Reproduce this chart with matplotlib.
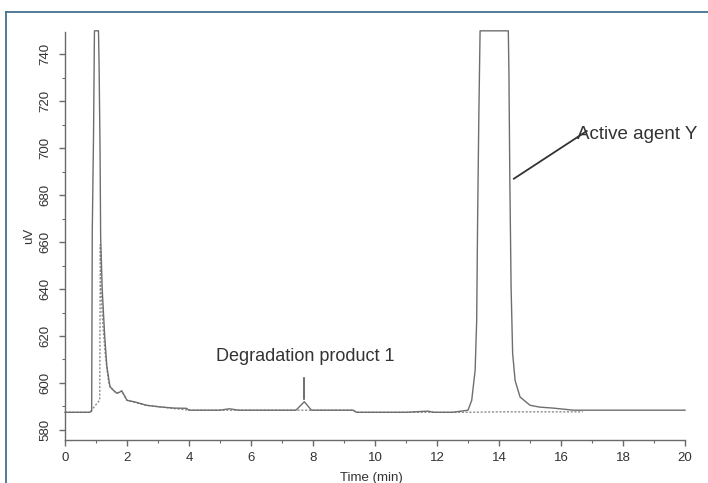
#!/usr/bin/env python3
"""Chromatogram overlay: sample vs blank, with the two labelled peaks."""

import matplotlib

matplotlib.use("Agg")
import matplotlib.pyplot as plt
from matplotlib.lines import Line2D
from matplotlib.ticker import MultipleLocator

# sample trace (solid)
SAMPLE_T = [0.0, 0.8, 0.86, 0.88, 0.92, 0.95, 1.08, 1.10, 1.13, 1.15, 1.20, 1.28,
            1.35, 1.45, 1.55, 1.67, 1.75, 1.83, 1.90, 2.0, 2.26, 2.63, 3.06, 3.5,
            3.92, 4.0, 5.0, 5.3, 5.6, 6.0, 7.0, 7.45, 7.72, 7.95, 8.5, 9.3, 9.4,
            10.0, 11.0, 11.7, 11.9, 12.5, 13.0, 13.12, 13.23, 13.28, 13.31, 13.35,
            13.39, 14.30, 14.32, 14.35, 14.39, 14.44, 14.52, 14.68, 15.0, 15.32,
            15.74, 16.4, 17.0, 18.0, 19.0, 20.0]
SAMPLE_V = [587.5, 587.5, 588.0, 665.0, 705.0, 750.0, 750.0, 735.0, 700.0, 662.0,
            640.0, 620.0, 607.0, 598.5, 597.0, 595.6, 596.0, 596.6, 595.0, 592.6,
            591.9, 590.5, 589.8, 589.3, 589.2, 588.4, 588.4, 589.0, 588.4, 588.4,
            588.4, 588.4, 592.0, 588.4, 588.4, 588.4, 587.5, 587.5, 587.5, 588.0,
            587.5, 587.5, 588.4, 592.6, 605.4, 626.6, 669.0, 714.4, 750.0, 750.0,
            732.7, 686.0, 640.8, 612.6, 601.0, 594.0, 590.5, 589.7, 589.3, 588.4,
            588.4, 588.4, 588.4, 588.4]

# blank trace (dotted)
BLANK_T = [0.0, 0.8, 1.12, 1.14, 1.16, 1.22, 1.30, 1.40, 1.45, 1.67, 1.83, 2.0,
           2.6, 3.06, 4.0, 7.0, 9.3, 9.4, 13.0, 14.0, 15.0, 16.7]
BLANK_V = [587.5, 587.5, 592.7, 659.0, 640.0, 625.0, 612.0, 601.0, 598.3, 595.6,
           596.6, 592.6, 590.5, 589.8, 588.4, 588.4, 588.4, 587.5, 587.5, 587.7,
           587.7, 587.7]

X_LIM = (0, 20)
Y_LIM = (575.7, 749.5)

DEG_LABEL = "Degradation product 1"
DEG_PEAK = (7.72, 593.0)
DEG_TEXT = (7.74, 607.5)
AGENT_LABEL = "Active agent Y"
AGENT_POINT = (14.48, 687.0)
AGENT_TEXT = (16.52, 706.0)
AGENT_LINE_END = (16.83, 707.3)

FONT = ["Liberation Sans", "DejaVu Sans"]
AXIS_GREY = "#6a6a6a"


def main() -> None:
    plt.rcParams["font.family"] = FONT
    fig = plt.figure(figsize=(7.08, 4.83), dpi=100)
    ax = fig.add_axes([65 / 708, 1 - 440 / 483, 620 / 708, 408 / 483])

    ax.plot(BLANK_T, BLANK_V, color="#8c8c8c", linewidth=1.0,
            linestyle=(0, (1.5, 1.2)), clip_on=False)
    ax.plot(SAMPLE_T, SAMPLE_V, color="#6e6e6e", linewidth=1.0, clip_on=False)

    ax.set_xlim(*X_LIM)
    ax.set_ylim(*Y_LIM)
    ax.xaxis.set_major_locator(MultipleLocator(2))
    ax.xaxis.set_minor_locator(MultipleLocator(1))
    ax.yaxis.set_major_locator(MultipleLocator(20))
    ax.yaxis.set_minor_locator(MultipleLocator(10))

    for side in ["top", "right"]:
        ax.spines[side].set_visible(False)
    for side in ["left", "bottom"]:
        ax.spines[side].set_color(AXIS_GREY)
        ax.spines[side].set_linewidth(1.0)

    ax.tick_params(which="major", direction="out", length=4.5, width=1.0,
                   color=AXIS_GREY, labelsize=9.5, labelcolor="#333333")
    ax.tick_params(which="minor", direction="out", length=2.5, width=0.8,
                   color=AXIS_GREY)
    ax.tick_params(axis="x", pad=4)
    ax.tick_params(axis="y", pad=5)
    for lab in ax.get_yticklabels():
        lab.set_rotation(90)
        lab.set_va("center")

    ax.set_xlabel("Time (min)", fontsize=9.5, color="#333333")
    ax.set_ylabel("uV", fontsize=9.5, color="#333333")
    ax.xaxis.set_label_coords(0.4935, -0.078)
    ax.yaxis.set_label_coords(-0.048, 0.5)

    # peak annotations
    ax.plot([DEG_PEAK[0], DEG_PEAK[0]], [DEG_PEAK[1], 602.0], color="#555555",
            linewidth=1.2)
    ax.text(DEG_TEXT[0], DEG_TEXT[1], DEG_LABEL, ha="center", va="bottom",
            fontsize=13, color="#333333")
    ax.plot([AGENT_POINT[0], AGENT_LINE_END[0]], [AGENT_POINT[1], AGENT_LINE_END[1]],
            color="#333333", linewidth=1.3)
    ax.text(AGENT_TEXT[0], AGENT_TEXT[1], AGENT_LABEL, ha="left", va="center",
            fontsize=13.5, color="#333333")

    # outer frame, only top and left edges are inside the picture
    frame = "#44708f"
    fig.add_artist(Line2D([6 / 708, 1.0], [1 - 12 / 483, 1 - 12 / 483],
                          transform=fig.transFigure, color=frame, linewidth=1.3))
    fig.add_artist(Line2D([6 / 708, 6 / 708], [0.0, 1 - 12 / 483],
                          transform=fig.transFigure, color=frame, linewidth=1.3))

    fig.savefig("out.png", dpi=100)
    plt.close(fig)


if __name__ == "__main__":
    main()
